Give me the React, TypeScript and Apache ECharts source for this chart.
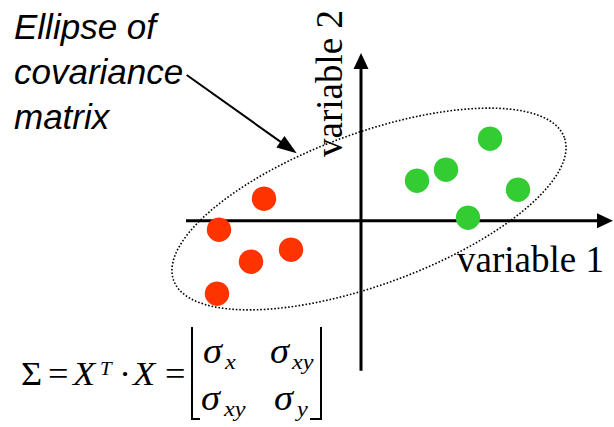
import React, { useEffect, useRef } from "react";
import * as echarts from "echarts";

// Data (units: diagram coordinates, origin at axis crossing)
const RED_POINTS: number[][] = [
  [-9.7, 2.2],
  [-14.2, -0.9],
  [-7.0, -2.9],
  [-11.0, -4.1],
  [-14.4, -7.3],
];
const GREEN_POINTS: number[][] = [
  [12.9, 8.2],
  [5.6, 4.0],
  [8.5, 5.1],
  [15.7, 3.1],
  [10.7, 0.3],
];
// cx, cy, semi-major, semi-minor, angle (deg)
const ELLIPSE: number[] = [0.8, 1.17, 20.8, 7.58, 20.1];
// x1, y1, x2, y2
const AXES: number[][] = [
  [-17.5, 0, 25.2, 0],
  [0, -15.0, 0, 16.77],
];
const CALLOUT: number[][] = [[-17.43, 14.57, -6.43, 6.74]];

const X_RANGE = [-36.1, 25.3];
const Y_RANGE = [-20.63, 22.07];

const SERIF = "'Liberation Serif', 'Times New Roman', serif";
const SANS = "'Liberation Sans', Arial, sans-serif";

function arrowRender(lineW: number, headL: number, headW: number) {
  return (_params: any, api: any) => {
    const p1 = api.coord([api.value(0), api.value(1)]);
    const p2 = api.coord([api.value(2), api.value(3)]);
    const dx = p2[0] - p1[0];
    const dy = p2[1] - p1[1];
    const len = Math.hypot(dx, dy);
    const ux = dx / len;
    const uy = dy / len;
    const nx = -uy;
    const ny = ux;
    const bx = p2[0] - ux * headL;
    const by = p2[1] - uy * headL;
    return {
      type: "group",
      children: [
        {
          type: "line",
          shape: { x1: p1[0], y1: p1[1], x2: bx + ux * 2, y2: by + uy * 2 },
          style: { stroke: "#000", lineWidth: lineW },
        },
        {
          type: "polygon",
          shape: {
            points: [
              [p2[0], p2[1]],
              [bx + (nx * headW) / 2, by + (ny * headW) / 2],
              [bx - (nx * headW) / 2, by - (ny * headW) / 2],
            ],
          },
          style: { fill: "#000" },
        },
      ],
    };
  };
}

function txt(
  x: number,
  baseline: number,
  text: string,
  size: number,
  italic: boolean,
  sx: number = 1.1,
  family: string = SERIF
) {
  return {
    type: "text",
    x,
    y: baseline - 0.3375 * size,
    scaleX: sx,
    style: {
      text,
      font: `${italic ? "italic " : ""}${size}px ${family}`,
      fill: "#000",
      align: "left",
      verticalAlign: "middle",
    },
  };
}

export default function App() {
  const ref = useRef<HTMLDivElement>(null);
  useEffect(() => {
    if (!ref.current) return;
    const chart = echarts.init(ref.current, undefined, { renderer: "svg" });
    chart.setOption({
      animation: false,
      backgroundColor: "#fff",
      grid: { left: 0, right: 0, top: 0, bottom: 0 },
      xAxis: { type: "value", min: X_RANGE[0], max: X_RANGE[1], show: false },
      yAxis: { type: "value", min: Y_RANGE[0], max: Y_RANGE[1], show: false },
      series: [
        {
          type: "custom",
          name: "ellipse",
          z: 1,
          clip: false,
          data: [ELLIPSE],
          encode: { x: 0, y: 1 },
          renderItem: (_p: any, api: any) => {
            const cx = api.value(0);
            const cy = api.value(1);
            const a = api.value(2);
            const b = api.value(3);
            const ang = (api.value(4) * Math.PI) / 180;
            const pts: number[][] = [];
            for (let k = 0; k <= 240; k++) {
              const t = (k / 240) * Math.PI * 2;
              const px = cx + a * Math.cos(t) * Math.cos(ang) - b * Math.sin(t) * Math.sin(ang);
              const py = cy + a * Math.cos(t) * Math.sin(ang) + b * Math.sin(t) * Math.cos(ang);
              pts.push(api.coord([px, py]));
            }
            return {
              type: "polygon",
              shape: { points: pts },
              style: { fill: "none", stroke: "#000", lineWidth: 1.6, lineDash: [1.6, 1.9] },
            };
          },
        },
        {
          type: "custom",
          name: "axes",
          z: 2,
          clip: false,
          data: AXES,
          encode: { x: [0, 2], y: [1, 3] },
          renderItem: arrowRender(3, 16, 15),
        },
        {
          type: "custom",
          name: "callout",
          z: 2,
          clip: false,
          data: CALLOUT,
          encode: { x: [0, 2], y: [1, 3] },
          renderItem: arrowRender(2, 20, 14),
        },
        {
          type: "scatter",
          name: "group A",
          z: 3,
          symbolSize: 24.5,
          itemStyle: { color: "#FF3300", opacity: 1 },
          data: RED_POINTS,
        },
        {
          type: "scatter",
          name: "group B",
          z: 3,
          symbolSize: 24.5,
          itemStyle: { color: "#33CC33", opacity: 1 },
          data: GREEN_POINTS,
        },
      ],
      graphic: [
        {
          type: "text",
          x: 14,
          y: 3.7,
          style: {
            text: "Ellipse of\ncovariance\nmatrix",
            font: `italic 35px ${SANS}`,
            lineHeight: 45,
            fill: "#000",
            align: "left",
            verticalAlign: "top",
          },
        },
        txt(457, 272, "variable 1", 37, false, 1),
        {
          type: "text",
          x: 329.2,
          y: 157,
          rotation: Math.PI / 2,
          style: {
            text: "variable 2",
            font: `37px ${SERIF}`,
            fill: "#000",
            align: "left",
            verticalAlign: "middle",
          },
        },
        txt(21, 385, "Σ", 33, false),
        txt(48, 385, "=", 33, false),
        txt(73, 385, "X", 33, true),
        txt(100, 375, "T", 19, true),
        txt(119, 385, "·", 33, false),
        txt(133, 385, "X", 33, true),
        txt(165, 385, "=", 33, false),
        {
          type: "polyline",
          shape: { points: [[192, 327], [192, 419], [200, 419]] },
          style: { stroke: "#000", lineWidth: 2, fill: "none" },
        },
        {
          type: "polyline",
          shape: { points: [[321, 327], [321, 419], [310, 419]] },
          style: { stroke: "#000", lineWidth: 2, fill: "none" },
        },
        txt(203, 363, "σ", 35, true),
        txt(225, 369, "x", 22, true),
        txt(270, 363, "σ", 35, true),
        txt(292, 369, "xy", 22, true),
        txt(201, 410, "σ", 35, true),
        txt(224, 416, "xy", 22, true),
        txt(274, 410, "σ", 35, true),
        txt(297, 416, "y", 22, true),
      ],
    });
    return () => chart.dispose();
  }, []);
  return (
    <div
      ref={ref}
      style={{ position: "absolute", left: 0, top: 0, width: 614, height: 427 }}
    />
  );
}
